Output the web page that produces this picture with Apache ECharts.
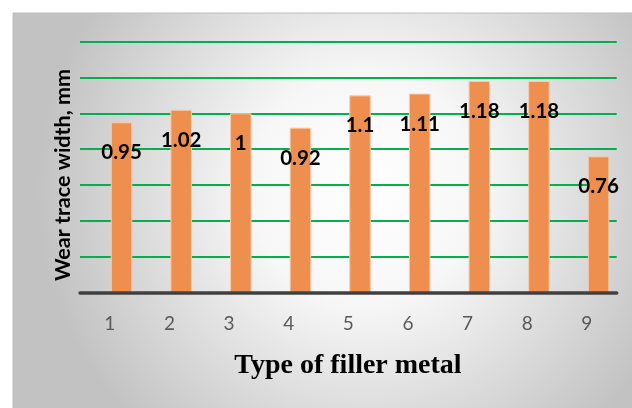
<!DOCTYPE html>
<html><head><meta charset="utf-8">
<script src="https://cdn.jsdelivr.net/npm/echarts@6/dist/echarts.min.js"></script>
<style>html,body{margin:0;padding:0;background:#fff}#c{width:632px;height:408px}</style>
</head><body><div id="c"></div>
<script>
const categories = ['1','2','3','4','5','6','7','8','9'];
const wearWidth = [0.95, 1.02, 1, 0.92, 1.1, 1.11, 1.18, 1.18, 0.76];
const yTitle = 'Wear trace width, mm';
const xTitle = 'Type of filler metal';

const chart = echarts.init(document.getElementById('c'), null, {renderer:'canvas'});
const gTop = 41.5, gBottom = 115.3;
chart.setOption({
  animation: false,
  graphic: [{
    type: 'rect', z: -10, silent: true,
    shape: {x: 13, y: 13, width: 640, height: 420},
    style: {
      fill: {type:'radial', x:0.55, y:0.42, r:0.78, colorStops:[
        {offset:0, color:'#ffffff'}, {offset:0.35, color:'#f7f7f7'}, {offset:1, color:'#c2c2c2'}]},
      stroke: '#bdbdbd', lineWidth: 1
    }
  }, {
    type: 'text', x: 348, y: 366,
    style: {text: xTitle, font: 'bold 28px "Liberation Serif"', fill: '#000', align: 'center', verticalAlign: 'middle'}
  }, {
    type: 'text', x: 63, y: 175, rotation: Math.PI / 2,
    style: {text: yTitle, font: 'bold 21.5px Lato', fill: '#000', align: 'center', verticalAlign: 'middle'}
  }],
  grid: [
    {left: 80, right: 15.3, top: gTop, bottom: gBottom},
    {left: 91.7, right: 3.6, top: gTop, bottom: gBottom}
  ],
  xAxis: [{
    gridIndex: 0, type: 'category', data: categories, z: 5,
    axisLine: {lineStyle: {color: '#404040', width: 3.5}},
    axisTick: {show: false},
    axisLabel: {color: '#595959', fontFamily: 'Lato', fontSize: 19, margin: 22},
    splitLine: {show: false}
  }, {
    gridIndex: 1, type: 'category', data: categories, show: false
  }],
  yAxis: [{
    gridIndex: 0, type: 'value', min: 0, max: 1.4, interval: 0.2,
    axisLine: {show: false}, axisTick: {show: false}, axisLabel: {show: false},
    splitLine: {lineStyle: {color: '#00B050', width: 2}}
  }, {
    gridIndex: 1, type: 'value', min: 0, max: 1.4, interval: 0.2, show: false
  }],
  series: [{
    type: 'bar', xAxisIndex: 1, yAxisIndex: 1, data: wearWidth,
    barWidth: 21.5,
    itemStyle: {color: '#EE8F4F', borderColor: '#F8CBAA', borderWidth: 1},
    label: {show: true, position: 'insideTop', distance: 20, color: '#000',
      fontFamily: 'Lato', fontWeight: 'bold', fontSize: 20.5}
  }]
});
</script></body></html>
